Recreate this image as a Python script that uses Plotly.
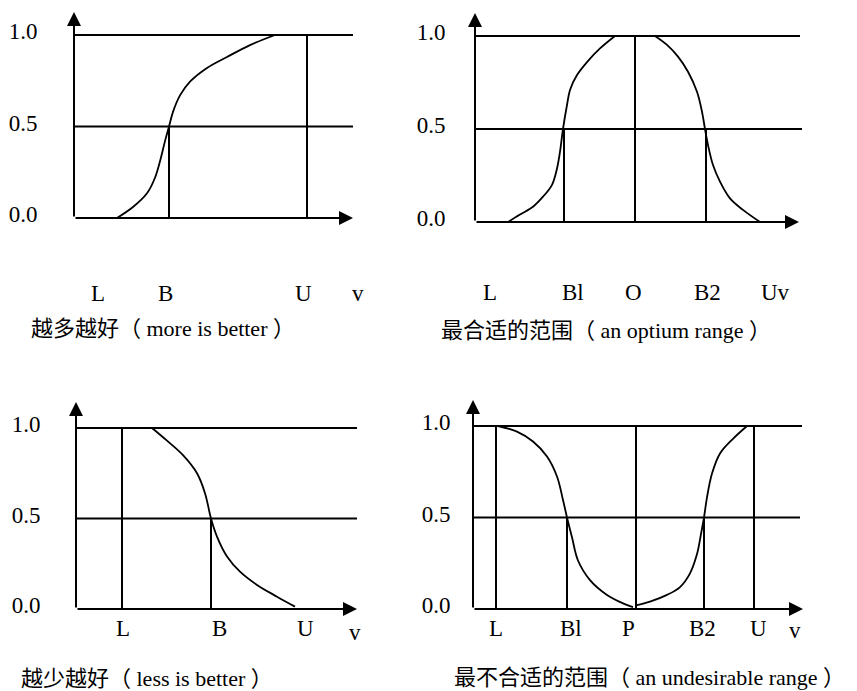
import plotly.graph_objects as go

W, H = 857, 691
PAD = 8  # default body margin of the html page
FONT = "Liberation Serif, 'Noto Sans CJK SC', serif"
FS = 23
CAP_FS = 22

# ---------------- 越多越好 (more is better) ----------------
more_curve_x = [43, 59, 73, 81, 86, 91, 95, 99, 106, 116, 133, 153, 176, 201]
more_curve_y = [0, 0.06, 0.135, 0.22, 0.31, 0.42, 0.5, 0.58, 0.67, 0.745, 0.82, 0.88, 0.945, 1.0]
more_vline_x = [95, 233]
more_vline_top = [0.5, 1.0]
more_hline_y = [1.0, 0.5]
more_hline_end = [279, 279]
more_axis_end = (279, 1.126)
more_labels = ["L", "B", "U", "v"]
more_label_x = [24, 91, 229, 284]
more_label_y = [-0.41, -0.41, -0.41, -0.41]
more_caption = "越多越好（ more is better ）"

# ---------------- 最合适的范围 (an optium range) ----------------
opt_rise_x = [33, 45, 58, 68, 77, 82, 85, 88, 92, 95, 102, 112, 125, 140]
opt_rise_y = [0, 0.04, 0.082, 0.136, 0.2, 0.288, 0.378, 0.5, 0.629, 0.71, 0.79, 0.86, 0.933, 1.0]
opt_fall_x = [180, 192, 203, 213, 222, 227, 230, 233, 238, 245, 255, 268, 285]
opt_fall_y = [1.0, 0.952, 0.889, 0.808, 0.70, 0.593, 0.5, 0.414, 0.306, 0.217, 0.127, 0.065, 0]
opt_vline_x = [89, 160, 231]
opt_vline_top = [0.5, 1.0, 0.5]
opt_hline_y = [1.0, 0.5]
opt_hline_end = [325, 327]
opt_axis_end = (324, 1.124)
opt_labels = ["L", "Bl", "O", "B2", "Uv"]
opt_label_x = [15, 98, 158, 232, 300]
opt_label_y = [-0.38, -0.38, -0.38, -0.38, -0.38]
opt_caption = "最合适的范围（ an optium range ）"

# ---------------- 越少越好 (less is better) ----------------
less_curve_x = [76, 91, 107, 121, 129, 135, 141, 151, 164, 181, 201, 219]
less_curve_y = [1.0, 0.93, 0.85, 0.75, 0.64, 0.5, 0.40, 0.29, 0.206, 0.133, 0.068, 0.013]
less_vline_x = [46, 135]
less_vline_top = [1.0, 0.5]
less_hline_y = [1.0, 0.5]
less_hline_end = [281, 281]
less_axis_end = (281, 1.144)
less_labels = ["L", "B", "U", "v"]
less_label_x = [47, 143, 229, 279]
less_label_y = [-0.11, -0.11, -0.11, -0.13]
less_caption = "越少越好（ less is better ）"

# ---------------- 最不合适的范围 (an undesirable range) ----------------
und_fall_x = [25, 44, 60, 74, 84, 90, 94, 99, 105, 117, 134, 150, 160]
und_fall_y = [1.0, 0.969, 0.915, 0.833, 0.724, 0.596, 0.5, 0.392, 0.265, 0.158, 0.077, 0.031, 0.01]
und_rise_x = [163, 177, 194, 207, 217, 224, 228, 231, 234, 239, 247, 260, 274]
und_rise_y = [0.02, 0.04, 0.077, 0.12, 0.195, 0.30, 0.41, 0.5, 0.61, 0.74, 0.85, 0.93, 1.0]
und_vline_x = [23, 94, 163, 231, 281]
und_vline_top = [1.0, 0.5, 1.0, 0.5, 1.0]
und_hline_y = [1.0, 0.5]
und_hline_end = [329, 327]
und_axis_end = (330, 1.142)
und_labels = ["L", "Bl", "P", "B2", "U", "v"]
und_label_x = [23, 98, 155, 229, 285, 322]
und_label_y = [-0.104, -0.104, -0.104, -0.104, -0.104, -0.115]
und_caption = "最不合适的范围（ an undesirable range ）"

panels = [
    dict(curves=[(more_curve_x, more_curve_y)], vx=more_vline_x, vt=more_vline_top,
         hy=more_hline_y, he=more_hline_end, ae=more_axis_end,
         lab=more_labels, lx=more_label_x, ly=more_label_y, cap=more_caption,
         # pixel layout: origin, y scale, box (left, right, top, bottom), tick gap, caption pos
         ox=74, oy=218, sy=183, box=(74, 380, 9, 310), tl=31, cap_xy=(29, 328)),
    dict(curves=[(opt_rise_x, opt_rise_y), (opt_fall_x, opt_fall_y)],
         vx=opt_vline_x, vt=opt_vline_top,
         hy=opt_hline_y, he=opt_hline_end, ae=opt_axis_end,
         lab=opt_labels, lx=opt_label_x, ly=opt_label_y, cap=opt_caption,
         ox=475, oy=222, sy=186, box=(475, 840, 9, 310), tl=24, cap_xy=(439, 330)),
    dict(curves=[(less_curve_x, less_curve_y)], vx=less_vline_x, vt=less_vline_top,
         hy=less_hline_y, he=less_hline_end, ae=less_axis_end,
         lab=less_labels, lx=less_label_x, ly=less_label_y, cap=less_caption,
         ox=76, oy=609, sy=181, box=(76, 380, 390, 650), tl=30, cap_xy=(19, 678)),
    dict(curves=[(und_fall_x, und_fall_y), (und_rise_x, und_rise_y)],
         vx=und_vline_x, vt=und_vline_top,
         hy=und_hline_y, he=und_hline_end, ae=und_axis_end,
         lab=und_labels, lx=und_label_x, ly=und_label_y, cap=und_caption,
         ox=473, oy=609, sy=183, box=(473, 850, 390, 650), tl=17, cap_xy=(452, 677)),
]

fig = go.Figure()
annotations = []
line_style = dict(color="black", width=2)

for i, p in enumerate(panels, start=1):
    xr = "x" if i == 1 else f"x{i}"
    yr = "y" if i == 1 else f"y{i}"

    # membership curve(s)
    for cx_, cy_ in p["curves"]:
        fig.add_trace(go.Scatter(x=cx_, y=cy_, mode="lines", xaxis=xr, yaxis=yr,
                                 line=dict(color="black", width=1.8, shape="spline", smoothing=1.0),
                                 showlegend=False, hoverinfo="skip"))
    # horizontal reference lines at 1.0 and 0.5
    for yv, xe in zip(p["hy"], p["he"]):
        fig.add_trace(go.Scatter(x=[0, xe], y=[yv, yv], mode="lines", xaxis=xr, yaxis=yr,
                                 line=line_style, showlegend=False, hoverinfo="skip"))
    # vertical markers
    for xv, top in zip(p["vx"], p["vt"]):
        fig.add_trace(go.Scatter(x=[xv, xv], y=[0, top], mode="lines", xaxis=xr, yaxis=yr,
                                 line=line_style, showlegend=False, hoverinfo="skip"))

    # axes with arrows
    for tip in [(p["ae"][0], 0), (0, p["ae"][1])]:
        annotations.append(dict(x=tip[0], y=tip[1], ax=0, ay=0, xref=xr, yref=yr,
                                axref=xr, ayref=yr, text="", showarrow=True,
                                arrowhead=2, arrowsize=1.4, arrowwidth=2, arrowcolor="black"))
    # x labels
    for t, lx, ly in zip(p["lab"], p["lx"], p["ly"]):
        annotations.append(dict(x=lx, y=ly, xref=xr, yref=yr, text=t, showarrow=False,
                                xanchor="center", yanchor="middle",
                                font=dict(family=FONT, size=FS, color="black")))
    # caption
    cx, cy = p["cap_xy"]
    annotations.append(dict(x=(cx - PAD) / W, y=1 - (cy - PAD) / H, xref="paper", yref="paper",
                            text=p["cap"], showarrow=False, xanchor="left", yanchor="middle",
                            font=dict(family=FONT, size=CAP_FS, color="black")))

    left, right, top, bottom = p["box"]
    key = "" if i == 1 else str(i)
    fig.layout["xaxis" + key] = dict(
        domain=[(left - PAD) / W, (right - PAD) / W], range=[left - p["ox"], right - p["ox"]],
        showline=False, showgrid=False, zeroline=False, showticklabels=False, ticks="",
        anchor=yr, fixedrange=True)
    fig.layout["yaxis" + key] = dict(
        domain=[1 - (bottom - PAD) / H, 1 - (top - PAD) / H],
        range=[(p["oy"] - bottom) / p["sy"], (p["oy"] - top) / p["sy"]],
        showline=False, showgrid=False, zeroline=False,
        tickvals=[0, 0.5, 1.0], ticktext=["0.0", "0.5", "1.0"],
        ticks="outside", ticklen=p["tl"], tickcolor="rgba(0,0,0,0)", ticklabelshift=-4,
        tickfont=dict(family=FONT, size=FS, color="black"),
        anchor=xr, fixedrange=True)

fig.update_layout(
    width=W, height=H,
    margin=dict(l=0, r=0, t=0, b=0),
    paper_bgcolor="white", plot_bgcolor="white",
    annotations=annotations,
    font=dict(family=FONT, color="black"),
)

fig.write_html("out.html")
